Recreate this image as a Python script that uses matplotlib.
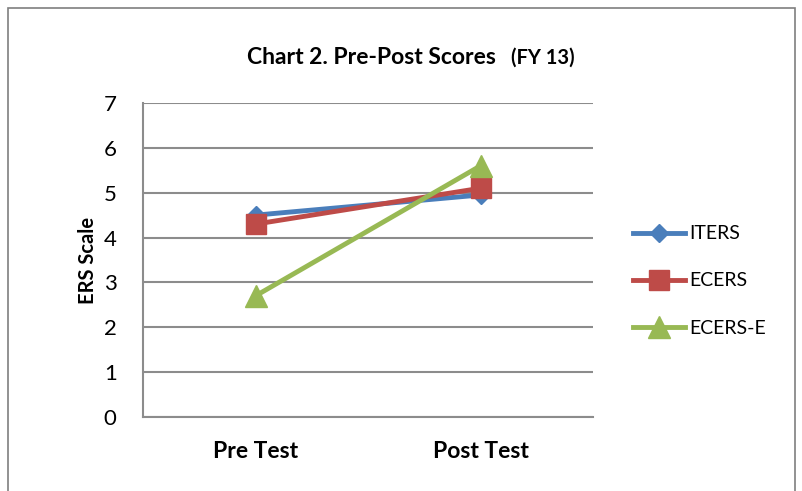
import matplotlib.pyplot as plt
from matplotlib.patches import Rectangle

plt.rcParams['font.family'] = ['Lato', 'DejaVu Sans']

tests = ["Pre Test", "Post Test"]
iters = [4.5, 4.95]
ecers = [4.3, 5.1]
ecers_e = [2.7, 5.6]

BLUE = "#4A7EBB"
RED = "#BE4B48"
GREEN = "#98B954"
GRID = "#8C8C8C"

fig = plt.figure(figsize=(8.02, 4.91), dpi=100)
ax = fig.add_axes([143/802, 1 - 417/491, 450/802, 314/491])

x = range(len(tests))
ax.plot(x, iters, color=BLUE, lw=3.5, marker="D", ms=9, label="ITERS")
ax.plot(x, ecers, color=RED, lw=3.5, marker="s", ms=14, label="ECERS")
ax.plot(x, ecers_e, color=GREEN, lw=3.5, marker="^", ms=16, label="ECERS-E")

ax.set_xlim(-0.5, 1.5)
ax.set_ylim(0, 7)
ax.set_yticks(range(0, 8))
ax.set_xticks(list(x))
ax.set_xticklabels(tests)
ax.tick_params(axis="both", length=0, labelsize=16)
ax.tick_params(axis="x", pad=17)
ax.tick_params(axis="y", pad=19)
for lbl in ax.get_xticklabels():
    lbl.set_fontweight("bold")
    lbl.set_fontsize(16.5)
ax.grid(axis="y", color=GRID, lw=1.5)
ax.set_axisbelow(True)
for s in ["top", "right"]:
    ax.spines[s].set_visible(False)
ax.spines["left"].set_color(GRID)
ax.spines["bottom"].set_color(GRID)
ax.spines["left"].set_linewidth(1.5)
ax.spines["bottom"].set_linewidth(1.5)
ax.set_ylabel("ERS Scale", fontsize=14.5, fontweight="bold", labelpad=4)

ax.legend(loc="center left", bbox_to_anchor=(615/802, 1 - 281/491),
          bbox_transform=fig.transFigure, frameon=False, fontsize=14,
          handlelength=2.7, handletextpad=0.2, labelspacing=1.55)

fig.text(247/802, 1 - 57/491, "Chart 2. Pre-Post Scores", fontsize=16.5,
         fontweight="bold", ha="left", va="center")
fig.text(511/802, 1 - 58/491, "(FY 13)", fontsize=14.5,
         fontweight="bold", ha="left", va="center")

fig.patches.append(Rectangle((8/802, -0.05), 787/802, 1.05 - 8/491,
                             transform=fig.transFigure, fill=False,
                             edgecolor="#7F7F7F", lw=1.2))

fig.savefig("out.png", dpi=100)
